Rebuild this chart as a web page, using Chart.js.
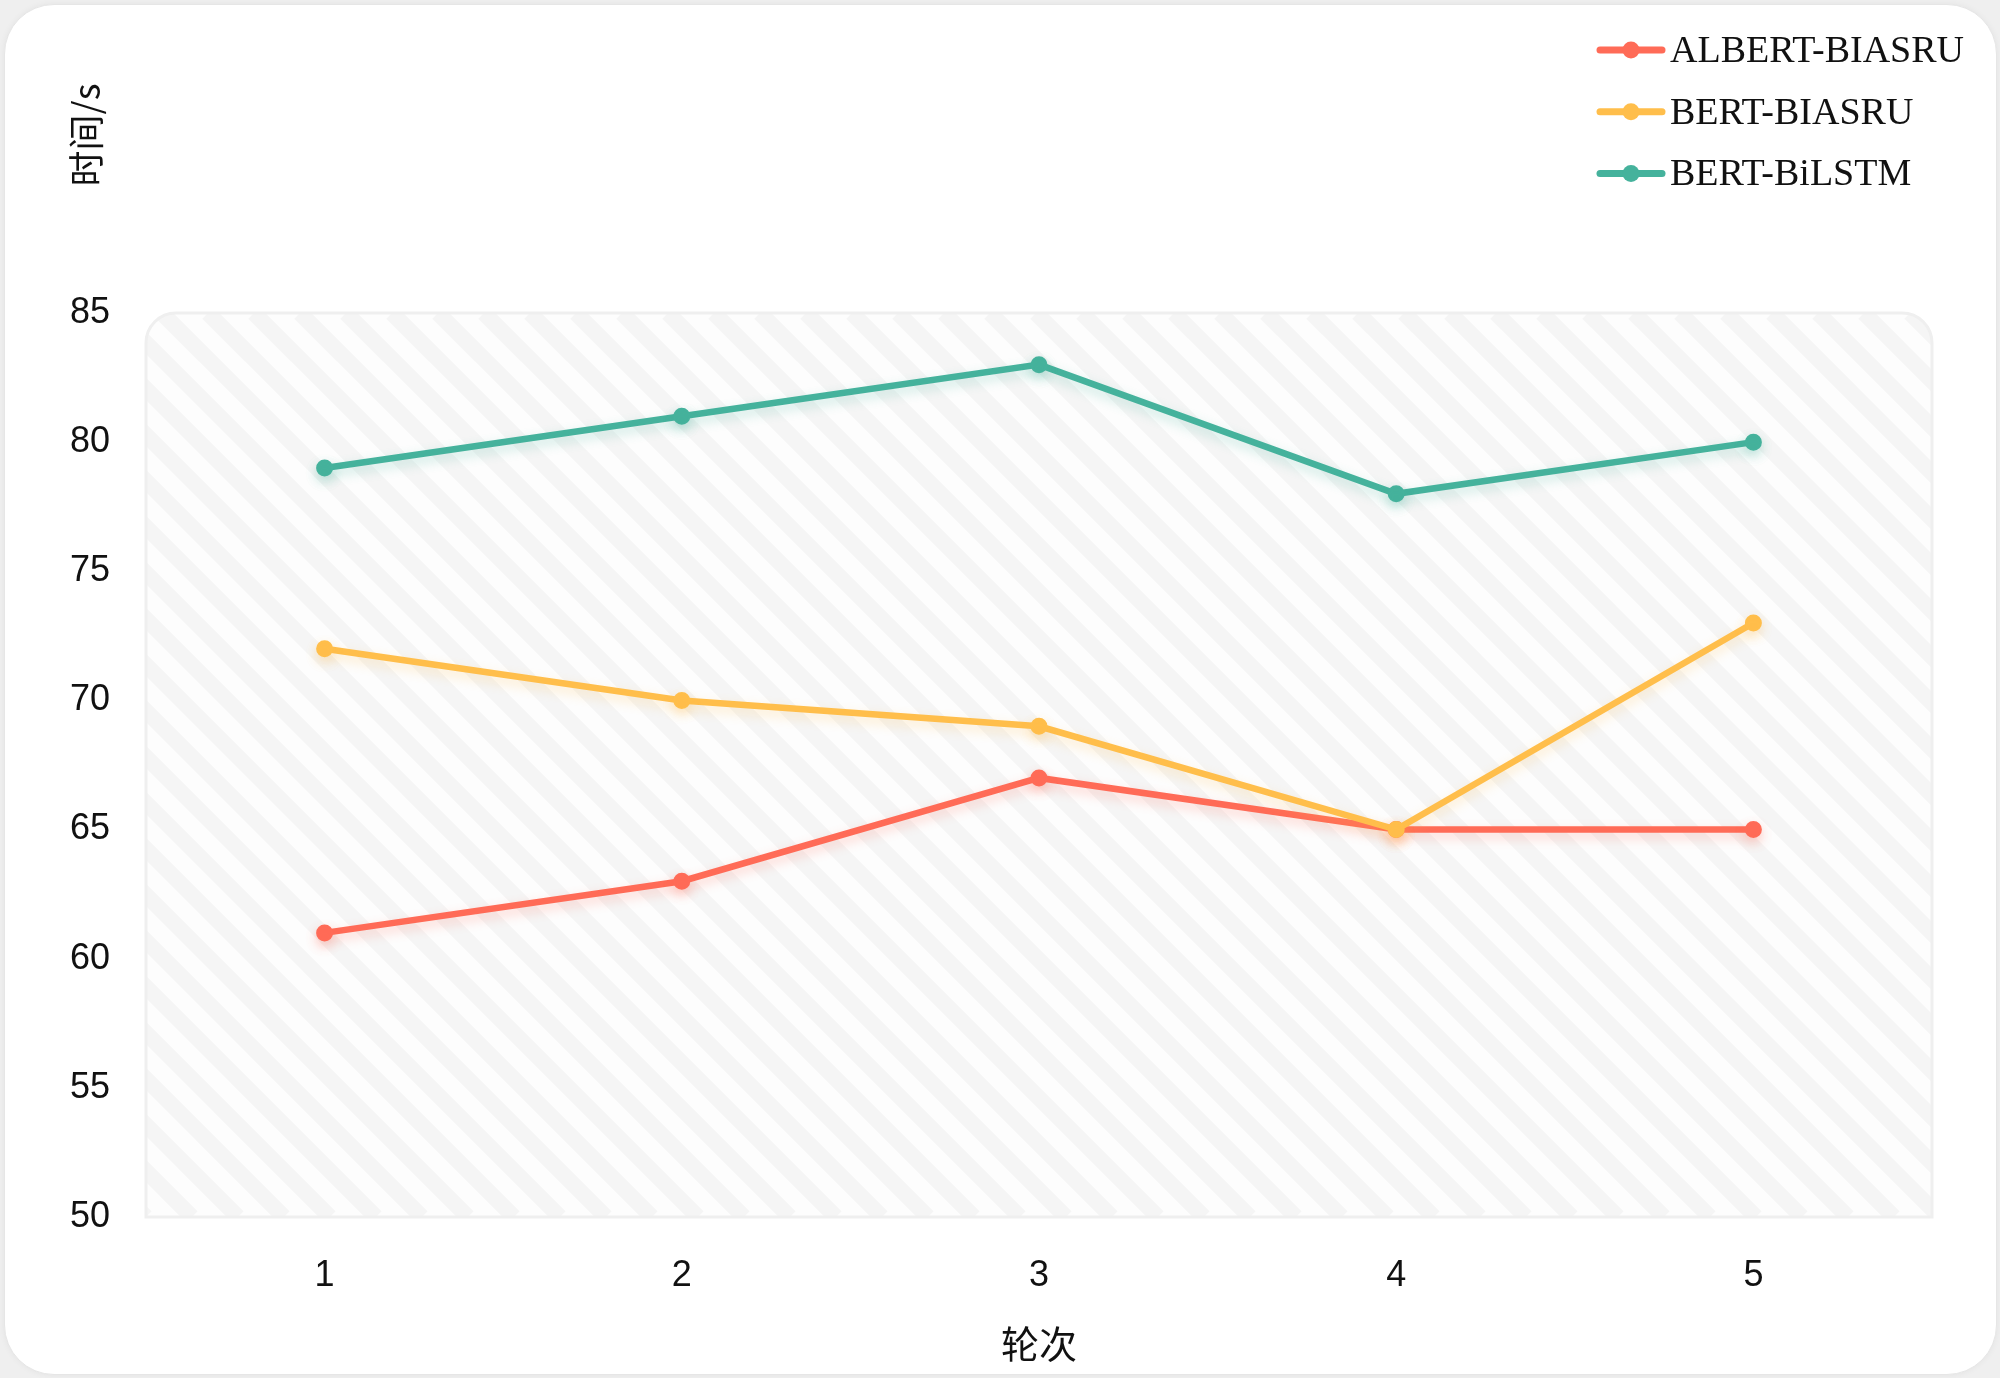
<!DOCTYPE html>
<html lang="zh">
<head>
<meta charset="UTF-8">
<title>轮次 - 时间/s</title>
<script src="https://cdn.jsdelivr.net/npm/chart.js"></script>
<style>
    html, body {
        margin: 0;
        padding: 0;
        width: 2000px;
        height: 1378px;
        overflow: hidden;
        background: #efefef;
    }
    .card {
        position: absolute;
        left: 4px; top: 4px; right: 3px; bottom: 3px;
        background: #fff;
        border-radius: 50px;
        border: 1px solid #e6e6e6;
        box-shadow: 0 0 6px rgba(0, 0, 0, 0.05);
    }
    #chart {
        position: absolute;
        left: 0; top: 0;
    }
</style>
</head>
<body>

<div class="card"></div>
<canvas id="chart" width="2000" height="1378"></canvas>

<script>
    // data
    const rounds = ['1', '2', '3', '4', '5'];
    const seriesNames = ['ALBERT-BIASRU', 'BERT-BIASRU', 'BERT-BiLSTM'];
    const albertBiasru = [61, 63, 67, 65, 65];
    const bertBiasru = [72, 70, 69, 65, 73];
    const bertBilstm = [79, 81, 83, 78, 80];
    const yTicks = [50, 55, 60, 65, 70, 75, 80, 85];

    const colors = ['#FF6B57', '#FFBE4B', '#45B29C'];
    const shadows = ['rgba(255,107,87,0.3)', 'rgba(255,190,75,0.3)', 'rgba(69,178,156,0.3)'];
    const sans = '"Liberation Sans", "Noto Sans CJK SC", sans-serif';
    const cjk = '"Noto Sans CJK SC", "Liberation Sans", sans-serif';
    const serif = '"Liberation Serif", "DejaVu Serif", serif';

    function makeSet(i, values, order) {
        return {
            label: seriesNames[i],
            data: values,
            borderColor: colors[i],
            backgroundColor: colors[i],
            borderWidth: 6.5,
            pointRadius: 7.5,
            pointBorderWidth: 2,
            pointBorderColor: colors[i],
            pointBackgroundColor: colors[i],
            tension: 0,
            fill: false,
            order: order
        };
    }

    // path of the plot panel: rounded top corners, square bottom
    function panelPath(ctx, a, r) {
        ctx.beginPath();
        ctx.moveTo(a.left, a.bottom);
        ctx.lineTo(a.left, a.top + r);
        ctx.arcTo(a.left, a.top, a.left + r, a.top, r);
        ctx.lineTo(a.right - r, a.top);
        ctx.arcTo(a.right, a.top, a.right, a.top + r, r);
        ctx.lineTo(a.right, a.bottom);
        ctx.closePath();
    }

    const panelBg = {
        id: 'panelBg',
        beforeDraw(chart) {
            const ctx = chart.ctx;
            const a = chart.chartArea;
            ctx.save();
            panelPath(ctx, a, 30);
            ctx.fillStyle = '#fdfdfd';
            ctx.fill();
            ctx.clip();
            // diagonal stripes
            const h = a.bottom - a.top;
            ctx.strokeStyle = '#f5f5f5';
            ctx.lineWidth = 16;
            for (let x = a.left - h; x < a.right + 20; x += 46) {
                ctx.beginPath();
                ctx.moveTo(x, a.top);
                ctx.lineTo(x + h, a.bottom);
                ctx.stroke();
            }
            ctx.restore();
            ctx.save();
            panelPath(ctx, a, 30);
            ctx.lineWidth = 3;
            ctx.strokeStyle = '#efefef';
            ctx.stroke();
            ctx.restore();
        }
    };

    const lineShadow = {
        id: 'lineShadow',
        beforeDatasetDraw(chart, args) {
            const ctx = chart.ctx;
            ctx.save();
            ctx.shadowColor = shadows[args.index];
            ctx.shadowBlur = 12;
            ctx.shadowOffsetY = 5;
        },
        afterDatasetDraw(chart) {
            chart.ctx.restore();
        }
    };

    // y title at the top-left and the stacked legend at the top-right
    const extras = {
        id: 'extras',
        afterDraw(chart) {
            const ctx = chart.ctx;
            ctx.save();
            ctx.fillStyle = '#111';
            ctx.font = '36px ' + cjk;
            ctx.textAlign = 'center';
            ctx.textBaseline = 'middle';
            ctx.translate(86, 135);
            ctx.rotate(-Math.PI / 2);
            ctx.fillText('时间/s', 0, 0);
            ctx.restore();

            ctx.save();
            ctx.font = '38px ' + serif;
            ctx.textAlign = 'left';
            ctx.textBaseline = 'middle';
            chart.data.datasets.forEach((ds, i) => {
                const y = 50 + i * 61.7;
                ctx.strokeStyle = ds.borderColor;
                ctx.lineWidth = 7;
                ctx.lineCap = 'round';
                ctx.beginPath();
                ctx.moveTo(1600, y);
                ctx.lineTo(1662, y);
                ctx.stroke();
                ctx.fillStyle = ds.borderColor;
                ctx.beginPath();
                ctx.arc(1631, y, 8.5, 0, Math.PI * 2);
                ctx.fill();
                ctx.fillStyle = '#111';
                ctx.fillText(ds.label, 1670, y + 2);
            });
            ctx.restore();
        }
    };

    const ctx = document.getElementById('chart').getContext('2d');
    new Chart(ctx, {
        type: 'line',
        data: {
            labels: rounds,
            datasets: [
                makeSet(0, albertBiasru, 2),
                makeSet(1, bertBiasru, 1),
                makeSet(2, bertBilstm, 0)
            ]
        },
        options: {
            responsive: false,
            animation: false,
            layout: {
                padding: { left: 0, top: 313, right: 68, bottom: 0 }
            },
            plugins: {
                legend: { display: false },
                tooltip: { enabled: false }
            },
            scales: {
                x: {
                    offset: true,
                    grid: { display: false, drawTicks: false },
                    border: { display: false },
                    ticks: {
                        padding: 37,
                        color: '#111',
                        font: { size: 36, family: sans }
                    },
                    title: {
                        display: true,
                        text: '轮次',
                        color: '#111',
                        font: { size: 38, family: cjk },
                        padding: { top: 0, bottom: 12 }
                    },
                    afterFit(scale) { scale.height = 161; }
                },
                y: {
                    min: 50,
                    max: 85,
                    grid: { display: false, drawTicks: false },
                    border: { display: false },
                    ticks: {
                        padding: 36,
                        color: '#111',
                        font: { size: 36, family: sans }
                    },
                    afterBuildTicks(scale) {
                        scale.ticks = yTicks.map(v => ({ value: v }));
                    },
                    afterFit(scale) { scale.width = 146; }
                }
            }
        },
        plugins: [panelBg, lineShadow, extras]
    });
</script>

</body>
</html>
